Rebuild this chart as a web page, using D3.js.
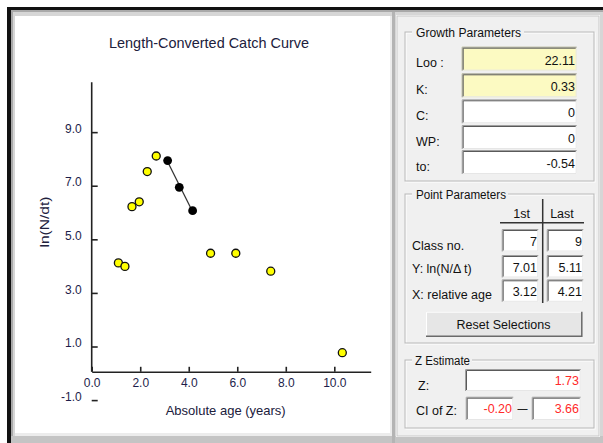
<!DOCTYPE html>
<html><head><meta charset="utf-8">
<script src="https://cdn.jsdelivr.net/npm/d3@7"></script>
<style>
html,body{margin:0;padding:0;background:#fff;overflow:hidden}
svg{display:block}
text{font-family:"Liberation Sans",Arial,sans-serif}
</style>
</head><body>
<svg id="c" width="603" height="443"></svg>
<script>
// ---------- data ----------
const chartTitle = "Length-Converted Catch Curve";
const xLabel = "Absolute age (years)";
const yLabel = "ln(N/dt)";
const xTickValues = [0, 2, 4, 6, 8, 10];
const yTickValues = [-1, 1, 3, 5, 7, 9];
const ageUnselected = [1.10, 1.37, 1.66, 1.96, 2.29, 2.66, 4.90, 5.94, 7.38, 10.33];
const lnUnselected  = [4.12, 3.99, 6.22, 6.40, 7.53, 8.11, 4.48, 4.48, 3.81, 0.77];
const ageSelected = [3.13, 3.61, 4.16];
const lnSelected  = [7.94, 6.94, 6.07];

const growthTitle = "Growth Parameters";
const growthLabels = ["Loo :", "K:", "C:", "WP:", "to:"];
const growthValues = ["22.11", "0.33", "0", "0", "-0.54"];
const growthHighlighted = [true, true, false, false, false];

const pointTitle = "Point Parameters";
const pointHeaders = ["1st", "Last"];
const pointLabels = ["Class no.", "Y: ln(N/\u0394 t)", "X: relative age"];
const pointFirst = ["7", "7.01", "3.12"];
const pointLast  = ["9", "5.11", "4.21"];
const buttonText = "Reset Selections";

const zTitle = "Z Estimate";
const zLabels = ["Z:", "CI of Z:"];
const zValue = "1.73";
const zCI = ["-0.20", "3.66"];

// ---------- setup ----------
const svg = d3.select("#c");
const FONT = '"Liberation Sans",Arial,sans-serif';
const fmt1 = d => d.toFixed(1);

function txt(parent, x, y, s, o = {}) {
  const t = parent.append("text")
    .attr("x", x).attr("y", y)
    .attr("font-size", o.size || 12.5)
    .attr("fill", o.fill || "#111")
    .attr("text-anchor", o.anchor || "start")
    .text(s);
  if (o.len) t.attr("textLength", o.len).attr("lengthAdjust", "spacingAndGlyphs");
  return t;
}

// ---------- window frame ----------
svg.append("rect").attr("x", 0).attr("y", 0).attr("width", 603).attr("height", 443).attr("fill", "#fff");
svg.append("rect").attr("x", 7).attr("y", 7).attr("width", 596).attr("height", 436).attr("fill", "#111");
svg.append("rect").attr("x", 11).attr("y", 10).attr("width", 592).attr("height", 433).attr("fill", "#a9a9a9");
svg.append("rect").attr("x", 13).attr("y", 12).attr("width", 590).attr("height", 431).attr("fill", "#d6d6d6");
svg.append("rect").attr("x", 11).attr("y", 436).attr("width", 592).attr("height", 7).attr("fill", "#c4c4c4");

// left white plot panel
svg.append("rect").attr("x", 15).attr("y", 16).attr("width", 375).attr("height", 417).attr("fill", "#fff");
svg.append("rect").attr("x", 15).attr("y", 433).attr("width", 377).attr("height", 3).attr("fill", "#ececec");
svg.append("rect").attr("x", 390).attr("y", 16).attr("width", 2).attr("height", 420).attr("fill", "#ececec");
svg.append("rect").attr("x", 392).attr("y", 12).attr("width", 3).attr("height", 431).attr("fill", "#b4b4b4");

// right panel
svg.append("rect").attr("x", 396).attr("y", 15).attr("width", 204).attr("height", 422).attr("fill", "#fff");
svg.append("rect").attr("x", 397).attr("y", 16).attr("width", 202).attr("height", 420).attr("fill", "#f0f0f0")
  .attr("stroke", "#c8c8c8").attr("stroke-width", 1);

// ---------- chart ----------
const x = d3.scaleLinear().domain([0, 11.5]).range([91.7, 370.7]);
const y = d3.scaleLinear().domain([0, 10.86]).range([373.3, 82.3]);
const yTop = 10.86;

txt(svg, 209, 48, chartTitle, { size: 15, anchor: "middle", fill: "#20203c", len: 200 });

const gx = svg.append("g").attr("transform", `translate(0,${y(0) - 1.5})`)
  .call(d3.axisBottom(x).tickValues(xTickValues).tickFormat(fmt1)
    .tickSizeInner(-5).tickSizeOuter(0).tickPadding(7));
gx.select(".domain").attr("stroke", "#222").attr("stroke-width", 1.6);
gx.selectAll(".tick line").attr("stroke", "#222").attr("stroke-width", 1.6);
gx.selectAll(".tick text").attr("font-size", 12).attr("fill", "#1d1d4a").attr("font-family", FONT);

const gy = svg.append("g").attr("transform", `translate(${x(0)},0)`)
  .call(d3.axisLeft(y).tickValues(yTickValues).tickFormat(fmt1)
    .tickSizeInner(-6).tickSizeOuter(0).tickPadding(10));
gy.select(".domain").remove();
gy.selectAll(".tick line").attr("stroke", "#222").attr("stroke-width", 1.6);
gy.selectAll(".tick text").attr("font-size", 12).attr("fill", "#1d1d4a").attr("font-family", FONT).attr("dy", "0.02em");
svg.append("line").attr("x1", x(0)).attr("x2", x(0)).attr("y1", y(0) - 1.5).attr("y2", y(yTop))
  .attr("stroke", "#222").attr("stroke-width", 1.6);

txt(svg, 225.7, 414.5, xLabel, { size: 13, anchor: "middle", fill: "#20203c", len: 120 });
txt(svg, 0, 0, yLabel, { size: 13, anchor: "middle", fill: "#20203c", len: 51 })
  .attr("transform", "translate(49,222) rotate(-90)");

// regression line through selected points
const mx = d3.mean(ageSelected), my = d3.mean(lnSelected);
const slope = d3.sum(ageSelected, (a, i) => (a - mx) * (lnSelected[i] - my)) /
              d3.sum(ageSelected, a => (a - mx) * (a - mx));
const icpt = my - slope * mx;
const x0 = d3.min(ageSelected), x1 = d3.max(ageSelected);
svg.append("line")
  .attr("x1", x(x0)).attr("y1", y(icpt + slope * x0))
  .attr("x2", x(x1)).attr("y2", y(icpt + slope * x1))
  .attr("stroke", "#333").attr("stroke-width", 1.3);

svg.append("g").selectAll("circle").data(ageUnselected).join("circle")
  .attr("cx", d => x(d)).attr("cy", (d, i) => y(lnUnselected[i]))
  .attr("r", 4).attr("fill", "#ffff00").attr("stroke", "#111").attr("stroke-width", 1.3);
svg.append("g").selectAll("circle").data(ageSelected).join("circle")
  .attr("cx", d => x(d)).attr("cy", (d, i) => y(lnSelected[i]))
  .attr("r", 4.4).attr("fill", "#000");

// ---------- right panel widgets ----------
function groupBox(x0, y0, x1, y1, title, tw) {
  const g = svg.append("g");
  g.append("rect").attr("x", x0 + 1).attr("y", y0 + 1).attr("width", x1 - x0).attr("height", y1 - y0)
    .attr("fill", "none").attr("stroke", "#fff");
  g.append("rect").attr("x", x0).attr("y", y0).attr("width", x1 - x0).attr("height", y1 - y0)
    .attr("fill", "none").attr("stroke", "#b9b9b9");
  g.append("rect").attr("x", x0 + 7).attr("y", y0 - 6).attr("width", tw).attr("height", 12).attr("fill", "#f0f0f0");
  return g;
}
function editBox(x0, y0, w, h, fill) {
  const g = svg.append("g");
  g.append("rect").attr("x", x0).attr("y", y0).attr("width", w).attr("height", h).attr("fill", fill);
  g.append("path").attr("d", `M${x0},${y0 + h - 0.5}H${x0 + w - 0.5}V${y0}`).attr("fill", "none").attr("stroke", "#e6e6e6");
  g.append("path").attr("d", `M${x0 + 0.5},${y0 + h}V${y0 + 0.5}H${x0 + w}`).attr("fill", "none").attr("stroke", "#a0a0a0");
  g.append("path").attr("d", `M${x0 + 1.5},${y0 + h - 1}V${y0 + 1.5}H${x0 + w - 1}`).attr("fill", "none").attr("stroke", "#5a5a5a");
  return g;
}

// Growth parameters
groupBox(405, 32, 594, 181, growthTitle, 112);
txt(svg, 416, 37, growthTitle, { size: 12.5, len: 105 });
const growthTops = [46.7, 73.3, 99.3, 125, 150];
growthLabels.forEach((l, i) => {
  editBox(461.7, growthTops[i], 115, 24, growthHighlighted[i] ? "#fcfac2" : "#ffffff");
  txt(svg, 416, growthTops[i] + 20.5, l, { size: 12.5 });
  txt(svg, 575, growthTops[i] + 18, growthValues[i], { size: 12.5, anchor: "end" });
});

// Point parameters
groupBox(405, 194, 594, 343, pointTitle, 96);
txt(svg, 416, 199, pointTitle, { size: 12.5, len: 90 });
txt(svg, 521.7, 218, pointHeaders[0], { size: 12.5, anchor: "middle" });
txt(svg, 562, 218, pointHeaders[1], { size: 12.5, anchor: "middle" });
svg.append("line").attr("x1", 500).attr("x2", 584).attr("y1", 222.7).attr("y2", 222.7).attr("stroke", "#333").attr("stroke-width", 1.5);
svg.append("line").attr("x1", 542.7).attr("x2", 542.7).attr("y1", 199).attr("y2", 303).attr("stroke", "#333").attr("stroke-width", 1.5);
const pointTops = [229, 255, 279.3];
const pointLabelBase = [250, 273, 299];
pointLabels.forEach((l, i) => {
  editBox(501.7, pointTops[i], 36.6, 22.5, "#fff");
  editBox(546.7, pointTops[i], 36.6, 22.5, "#fff");
  txt(svg, 412, pointLabelBase[i], l, { size: 12.5 });
  txt(svg, 537, pointTops[i] + 16.5, pointFirst[i], { size: 12.5, anchor: "end" });
  txt(svg, 582, pointTops[i] + 16.5, pointLast[i], { size: 12.5, anchor: "end" });
});
// button
const bt = svg.append("g");
bt.append("rect").attr("x", 426).attr("y", 311.7).attr("width", 156.3).attr("height", 25).attr("fill", "#e6e6e6");
bt.append("path").attr("d", "M426.5,336.7V312.2H582.3").attr("fill", "none").attr("stroke", "#fff");
bt.append("path").attr("d", "M426,336.2H581.8V311.7").attr("fill", "none").attr("stroke", "#6a6a6a").attr("stroke-width", 1.5);
txt(svg, 503.5, 329, buttonText, { size: 12.5, anchor: "middle" });

// Z estimate
groupBox(405, 360, 594, 428, zTitle, 60);
txt(svg, 415, 365, zTitle, { size: 12.5, len: 55 });
editBox(465, 369, 115.7, 22, "#fff");
txt(svg, 418, 390, zLabels[0], { size: 12.5 });
txt(svg, 579, 385, zValue, { size: 12.5, anchor: "end", fill: "#ff2a2a" });
editBox(465.7, 396.7, 47.6, 23.3, "#fff");
editBox(531.7, 396.7, 49, 23.3, "#fff");
txt(svg, 416, 414.5, zLabels[1], { size: 12.5 });
txt(svg, 512, 413.3, zCI[0], { size: 12.5, anchor: "end", fill: "#ff2a2a" });
txt(svg, 579, 413.3, zCI[1], { size: 12.5, anchor: "end", fill: "#ff2a2a" });
txt(svg, 522.5, 413, "\u2014", { size: 12.5, anchor: "middle", fill: "#222", len: 10 });
</script>
</body></html>
